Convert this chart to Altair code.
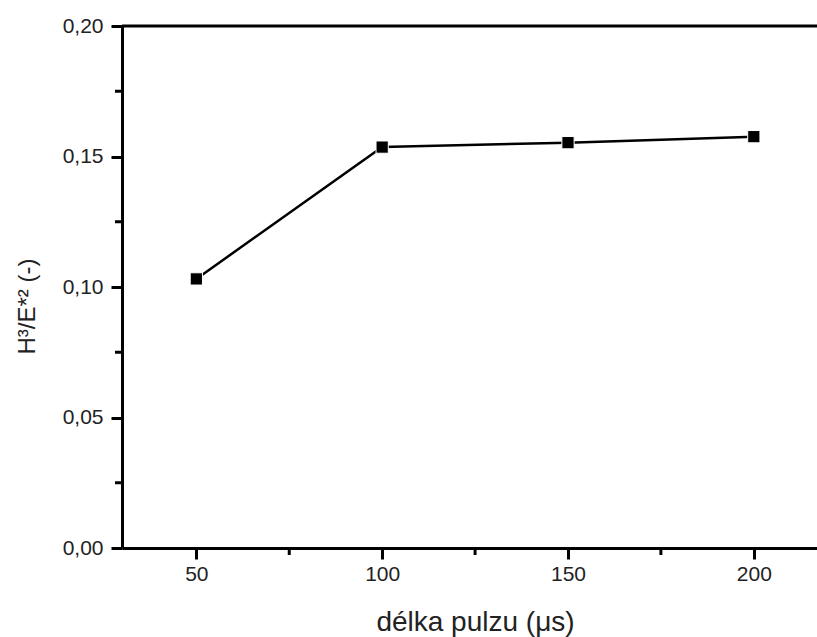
import altair as alt
import pandas as pd

# data
pulse = [50, 100, 150, 200]
ratio = [0.1031, 0.1536, 0.1553, 0.1576]
x_major = [50, 100, 150, 200]
x_minor = [75, 125, 175]
y_major = [0.0, 0.05, 0.10, 0.15, 0.20]
y_minor = [0.025, 0.075, 0.125, 0.175]

x_title = "délka pulzu (μs)"
y_title = "H³/E*² (-)"

W, H = 695, 522
FONT = "Liberation Sans"

df = pd.DataFrame({"pulse": pulse, "ratio": ratio})
xs = alt.Scale(domain=[30, 217], nice=False, zero=False)
ys = alt.Scale(domain=[0, 0.2], nice=False)

x_axis = alt.Axis(values=x_major, title=x_title, labelPadding=4,
                  titleX=353, titleY=82, titleBaseline="alphabetic",
                  titleAnchor="start", titleAlign="center", titleFontSize=28)
y_axis = alt.Axis(values=y_major, title=y_title, labelPadding=8,
                  labelExpr="replace(format(datum.value, '.2f'), '.', ',')",
                  titleX=-83, titleY=280, titleAlign="center",
                  titleBaseline="bottom", titleAngle=270, titleFontSize=24)

base = alt.Chart(df).encode(
    x=alt.X("pulse:Q", scale=xs, axis=x_axis),
    y=alt.Y("ratio:Q", scale=ys, axis=y_axis),
)
line = base.mark_line(color="black", strokeWidth=2.5)
points = base.mark_point(shape="square", filled=True, size=150, fill="black",
                         stroke="white", strokeWidth=1, opacity=1)

xminor = alt.Chart(pd.DataFrame({"pulse": x_minor})).mark_rule(
    color="black", strokeWidth=3).encode(
    x=alt.X("pulse:Q", scale=xs, axis=x_axis),
    y=alt.value(H), y2=alt.value(H + 7))
yminor = alt.Chart(pd.DataFrame({"ratio": y_minor})).mark_rule(
    color="black", strokeWidth=3).encode(
    y=alt.Y("ratio:Q", scale=ys, axis=y_axis),
    x=alt.value(-7), x2=alt.value(0))
topline = alt.Chart(pd.DataFrame({"a": [0]})).mark_rule(
    color="black", strokeWidth=3).encode(
    x=alt.value(0), x2=alt.value(W), y=alt.value(0))

chart = alt.layer(line, points, xminor, yminor, topline).properties(
    width=W, height=H,
    padding={"left": 122, "top": 26, "right": 0, "bottom": 89},
    autosize=alt.AutoSizeParams(type="none"),
    background="white",
).configure_view(stroke=None).configure_axis(
    grid=False, domainColor="black", domainWidth=3, tickColor="black",
    tickWidth=3, tickSize=11, labelFont=FONT, labelFontSize=21,
    labelColor="#222", titleFont=FONT,
    titleFontWeight="normal", titleColor="#222",
)

chart.save("out.html", embed_options={"renderer": "svg", "actions": False})
